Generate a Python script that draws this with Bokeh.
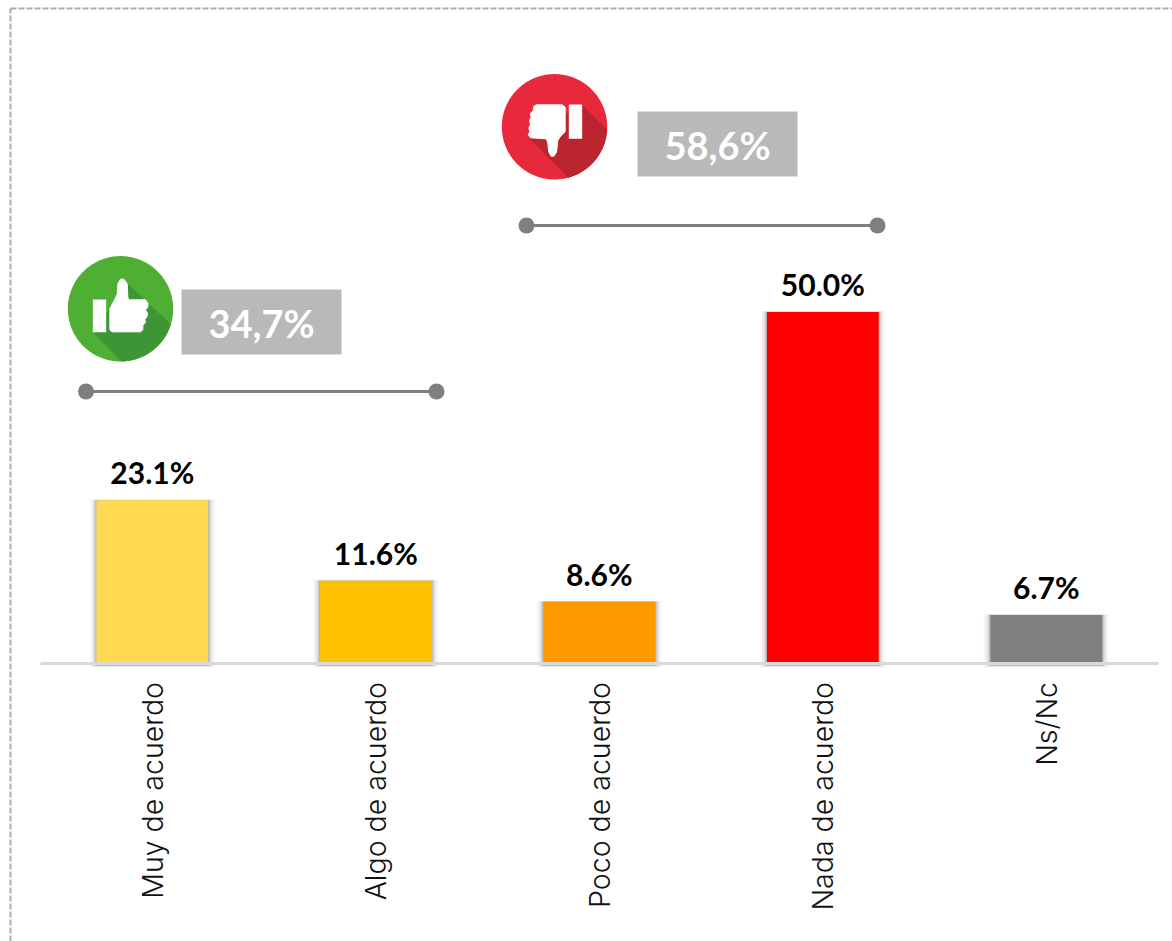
import numpy as np
from bokeh.plotting import figure
from bokeh.models import LinearAxis, FixedTicker, ColumnDataSource, Range1d
from bokeh.core.properties import value
from bokeh.embed import file_html
from bokeh.resources import INLINE

categories = ["Muy de acuerdo", "Algo de acuerdo", "Poco de acuerdo", "Nada de acuerdo", "Ns/Nc"]
values = [23.1, 11.6, 8.6, 50.0, 6.7]
value_labels = ["23.1%", "11.6%", "8.6%", "50.0%", "6.7%"]
colors = ["#FFD950", "#FFC000", "#FF9900", "#FF0000", "#7F7F7F"]
group_labels = ["34,7%", "58,6%"]

W, H = 1172, 941
LEFT, TOP = 0, 0
BASE = 661.5
PX_Y = 7.0            # pixels per percentage point
STEP = 223.5          # pixels per category
C0 = 151.8            # x of the first category


def X(px):
    return (px - C0) / STEP


def Y(py):
    return (BASE - py) / PX_Y


FONT = "Lato"
AXIS_FONT = "Inter Light"
p = figure(width=W, height=H, output_backend="svg", toolbar_location=None,
           x_range=Range1d(X(LEFT), X(LEFT + W)), y_range=Range1d(Y(TOP + H), Y(TOP)),
           x_axis_location=None, y_axis_location=None, min_border=0,
           outline_line_color=None, background_fill_color="white", border_fill_color="white")
p.grid.visible = False

# dashed page border
p.line([X(10), X(10)], [Y(TOP + H), Y(8)], line_color="#ABABAB", line_width=2, line_dash="6 2")
p.line([X(10), X(LEFT + W)], [Y(8), Y(8)], line_color="#ABABAB", line_width=2, line_dash="6 2")

xs = np.arange(len(categories), dtype=float)
vals = np.array(values)
src = ColumnDataSource(dict(x=xs, top=vals, color=colors, label=value_labels))

# soft shadow of the bars
BAR_W = 0.5
for grow, alpha in [(7, 0.03), (5, 0.05), (3.5, 0.08), (2, 0.12), (1, 0.16)]:
    p.quad(left=xs - BAR_W / 2 - grow / STEP, right=xs + BAR_W / 2 + grow / STEP,
           top=vals + grow * 0.15 / PX_Y, bottom=-(3.5 + grow * 0.3) / PX_Y,
           fill_color="#444444", fill_alpha=alpha, line_color=None)

axis = LinearAxis(ticker=FixedTicker(ticks=list(xs)), fixed_location=-1 / PX_Y,
                  major_label_overrides={i: c for i, c in enumerate(categories)},
                  major_label_orientation=np.pi / 2,
                  major_label_text_font=AXIS_FONT, major_label_text_font_size="28.5px",
                  major_label_text_color="#111111", major_label_standoff=13,
                  major_tick_line_color=None, minor_tick_line_color=None,
                  axis_line_color="#D9D9D9", axis_line_width=3, bounds=(X(40), X(1158)))
p.add_layout(axis, "below")

p.vbar(x="x", top="top", bottom=0, width=BAR_W, fill_color="color", line_color=None, source=src, level="overlay")

p.text(x="x", y="top", text="label", source=src, text_align="center", text_baseline="middle",
       y_offset=-28, text_font=value(FONT), text_font_style="bold", text_font_size="30px",
       text_color="black")

# group brackets
for x0, x1, py in [(85.5, 436, 391), (526, 877, 225)]:
    p.line([X(x0), X(x1)], [Y(py), Y(py)], line_color="#7F7F7F", line_width=3)
    p.scatter([X(x0), X(x1)], [Y(py), Y(py)], size=16, fill_color="#7F7F7F", line_color=None)

# group total boxes
for (x0, x1, y0, y1), lab in zip([(181, 341, 289, 354), (637, 797, 111, 176)], group_labels):
    p.quad(left=X(x0), right=X(x1), top=Y(y0), bottom=Y(y1), fill_color="#B9B9B9", line_color=None)
    p.text([X((x0 + x1) / 2)], [Y((y0 + y1) / 2)], text=[lab], text_align="center", text_baseline="middle",
           y_offset=1, text_font=value(FONT), text_font_style="bold", text_font_size="38px", text_color="white")


def icon(cx, cy, r, base, dark, start, end, a0, a1, hand, rect):
    t = np.linspace(0, 2 * np.pi, 240)
    p.patch(X(cx + r * np.cos(t)), Y(cy + r * np.sin(t)), fill_color=base, line_color=None)
    arc = np.radians(np.linspace(a0, a1, 60))
    sx = np.r_[start[0], cx + r * np.cos(arc), end[0]]
    sy = np.r_[start[1], cy + r * np.sin(arc), end[1]]
    p.patch(X(sx), Y(sy), fill_color=dark, line_color=None)
    hx, hy = np.array(hand, dtype=float).T
    p.patch(X(hx), Y(hy), fill_color="white", line_color="white", line_width=1, line_join="round")
    p.quad(left=X(rect[0]), right=X(rect[1]), top=Y(rect[2]), bottom=Y(rect[3]), fill_color="white", line_color=None)


def zoom_pts(pts, ox, oy):
    return [(ox + a / 3, oy + b / 3) for a, b in pts]


up_hand = [(73, 115), (85, 92), (95, 72), (97, 40), (105, 26), (115, 26), (125, 40), (127, 80), (130, 88), (180, 88),
           (188, 100), (186, 112), (180, 118), (186, 128), (184, 140), (178, 146), (180, 155), (172, 165),
           (172, 178), (165, 184), (80, 184), (73, 178)]
down_hand = [(48, 28), (125, 28), (134, 35), (134, 108), (118, 125), (112, 135), (108, 170), (100, 182), (92, 182),
             (85, 170), (82, 145), (78, 130), (30, 127), (23, 118), (28, 108), (25, 97), (30, 88), (27, 75),
             (32, 65), (29, 55), (38, 45), (40, 32)]

icon(120, 308.3, 52.7, "#4FAF32", "#3C9636",
     (85 + 127 / 3, 270 + 40 / 3), (85 + 22 / 3, 270 + 185 / 3), 17, 89,
     zoom_pts(up_hand, 85, 270), (85 + 22 / 3, 85 + 62 / 3, 270 + 87 / 3, 270 + 185 / 3))
icon(554, 126.3, 52.7, "#E8293C", "#BA252E",
     (520 + 185 / 3, 95 + 27 / 3), (520 + 23 / 3, 95 + 125 / 3), 3.3, 75,
     zoom_pts(down_hand, 520, 95), (520 + 145 / 3, 520 + 185 / 3, 95 + 27 / 3, 95 + 130 / 3))

open("out.html", "w").write(file_html(p, INLINE))
